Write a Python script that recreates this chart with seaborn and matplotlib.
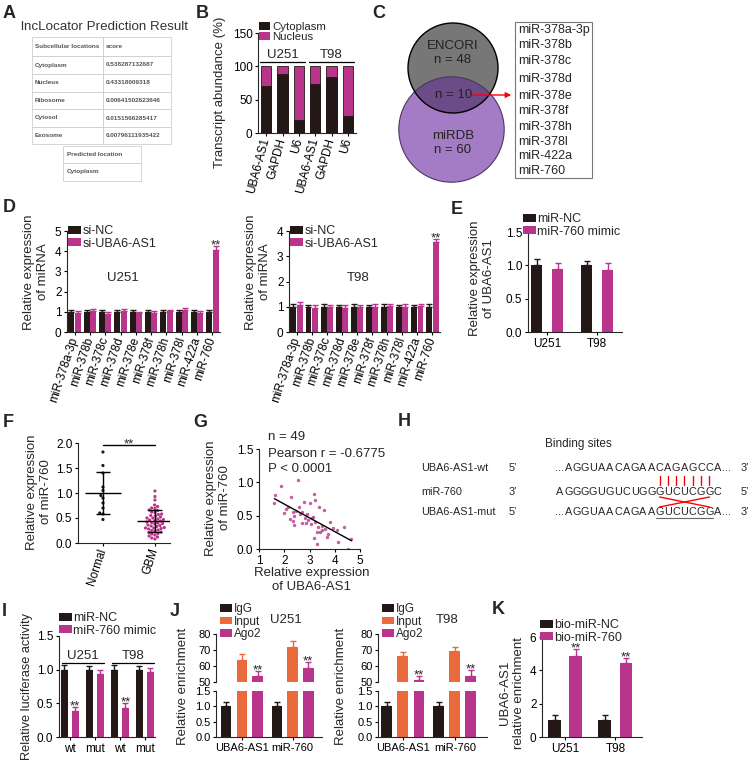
import numpy as np
import pandas as pd
import seaborn as sns
import matplotlib.pyplot as plt
from matplotlib.patches import Patch, Circle, Rectangle
from matplotlib.ticker import FormatStrFormatter

W, H = 753, 764
BLACK = '#231816'
MAGENTA = '#b9348b'
ORANGE = '#ea6a3c'

# ---- data ----
loc_names = ['Subcellular locations', 'Cytoplasm', 'Nucleus', 'Ribosome', 'Cytosol', 'Exosome']
loc_scores = ['score', '0.538287132687', '0.43318009318', '0.00641502623646',
              '0.0151566285417', '0.00796111935422']

b_labels = ['UBA6-AS1', 'GAPDH', 'U6', 'UBA6-AS1', 'GAPDH', 'U6']
b_cyto = [70, 88, 20, 74, 84, 25]
b_nuc = [30, 12, 80, 26, 16, 75]

venn_list = ['miR-378a-3p', 'miR-378b', 'miR-378c', 'miR-378d', 'miR-378e',
             'miR-378f', 'miR-378h', 'miR-378l', 'miR-422a', 'miR-760']

mir_labels = venn_list
d_u251_nc = [1.0] * 10
d_u251_nc_err = [0.10, 0.09, 0.10, 0.08, 0.10, 0.08, 0.09, 0.08, 0.10, 0.08]
d_u251_si = [0.95, 1.02, 0.88, 1.05, 0.95, 0.92, 1.05, 1.08, 0.95, 4.05]
d_u251_si_err = [0.07, 0.12, 0.09, 0.08, 0.06, 0.10, 0.05, 0.12, 0.10, 0.22]
d_t98_nc = [1.0] * 10
d_t98_nc_err = [0.12, 0.08, 0.10, 0.08, 0.10, 0.08, 0.10, 0.08, 0.08, 0.10]
d_t98_si = [1.05, 0.97, 0.98, 0.95, 1.00, 1.00, 1.02, 1.00, 1.02, 3.58]
d_t98_si_err = [0.12, 0.10, 0.10, 0.10, 0.08, 0.10, 0.08, 0.10, 0.10, 0.12]

cells = ['U251', 'T98']
e_nc = [1.0, 1.0]
e_nc_err = [0.09, 0.07]
e_mimic = [0.95, 0.93]
e_mimic_err = [0.08, 0.10]

f_normal = [1.82, 1.55, 1.40, 1.12, 1.05, 0.95, 0.90, 0.80, 0.70, 0.60, 0.58, 0.47]
f_gbm = [1.04, 0.93, 0.86, 0.76, 0.73, 0.70, 0.69, 0.66, 0.65, 0.62, 0.61, 0.58,
         0.57, 0.55, 0.54, 0.52, 0.50, 0.50, 0.48, 0.47, 0.46, 0.45, 0.44, 0.42,
         0.41, 0.40, 0.39, 0.38, 0.36, 0.35, 0.34, 0.33, 0.31, 0.30, 0.29, 0.28,
         0.26, 0.25, 0.24, 0.22, 0.21, 0.19, 0.18, 0.16, 0.14, 0.12, 0.10, 0.08, 0.30]

g_x = [1.61, 1.65, 1.89, 2.54, 1.98, 2.14, 2.28, 2.22, 2.35, 2.40, 2.37, 2.57, 2.70,
       2.79, 2.90, 3.03, 3.22, 3.16, 2.70, 2.87, 3.09, 3.22, 3.35, 3.39, 3.58, 3.16,
       3.29, 3.48, 3.61, 3.81, 3.68, 4.07, 4.14, 4.36, 4.53, 4.66, 2.05, 2.46, 2.62,
       2.95, 3.05, 3.12, 3.42, 3.50, 3.72, 3.92, 2.33, 2.83, 3.30]
g_y = [0.69, 0.81, 0.94, 1.04, 0.54, 0.63, 0.78, 0.45, 0.42, 0.49, 0.36, 0.63, 0.56,
       0.70, 0.53, 0.69, 0.73, 0.83, 0.39, 0.39, 0.46, 0.41, 0.33, 0.63, 0.58, 0.16,
       0.08, 0.29, 0.30, 0.40, 0.18, 0.29, 0.11, 0.33, 0.00, 0.15, 0.60, 0.57, 0.52,
       0.44, 0.37, 0.48, 0.26, 0.35, 0.22, 0.31, 0.55, 0.47, 0.25]

h_names = ['UBA6-AS1-wt', 'miR-760', 'UBA6-AS1-mut']
h_ends = [('5\u2019', '3\u2019'), ('3\u2019', '5\u2019'), ('5\u2019', '3\u2019')]
h_seqs = ['AGGUAACAGAACAGAGCCA', 'AGGGGUGUCUGGGUCUCGGC', 'AGGUAACAGAAGUCUCGGA']

i_labels = ['wt', 'mut', 'wt', 'mut']
i_nc = [1.0, 1.0, 1.0, 1.0]
i_nc_err = [0.07, 0.06, 0.07, 0.06]
i_mimic = [0.38, 0.93, 0.43, 0.97]
i_mimic_err = [0.06, 0.07, 0.07, 0.06]

j_labels = ['UBA6-AS1', 'miR-760']
j_u251 = {'IgG': [1.0, 1.0], 'Input': [64, 72], 'Ago2': [53.5, 59]}
j_u251_err = {'IgG': [0.13, 0.15], 'Input': [3.5, 3.5], 'Ago2': [3.5, 3.5]}
j_t98 = {'IgG': [1.0, 1.0], 'Input': [66, 69.5], 'Ago2': [51.5, 54]}
j_t98_err = {'IgG': [0.13, 0.15], 'Input': [3.0, 2.5], 'Ago2': [2.5, 3.5]}

k_nc = [1.04, 1.0]
k_nc_err = [0.28, 0.3]
k_bio = [4.86, 4.44]
k_bio_err = [0.4, 0.3]

# ---- style ----
sns.set_style('ticks')
plt.rcParams['font.family'] = ['Liberation Sans', 'DejaVu Sans']
plt.rcParams['axes.linewidth'] = 0.8

fig = plt.figure(figsize=(W / 100, H / 100), dpi=100)
ov = fig.add_axes([0, 0, 1, 1], zorder=-1)
ov.set_xlim(0, W)
ov.set_ylim(H, 0)
ov.axis('off')


def px_ax(x0, y0, x1, y1):
    ax = fig.add_axes([x0 / W, 1 - y1 / H, (x1 - x0) / W, (y1 - y0) / H])
    ax.set_facecolor('none')
    return ax


def style(ax):
    sns.despine(ax=ax)
    ax.tick_params(length=2.5, width=0.8, pad=1.5, labelsize=8.5, colors='black')
    ax.set_xlabel('')
    ax.set_ylabel('')


def letter(s, x, y):
    fig.text(x / W, 1 - y / H, s, fontsize=13, fontweight='bold', ha='left', va='center')


def ylab(s, x, y, fs=9.5):
    fig.text(x / W, 1 - y / H, s, rotation=90, ha='center', va='center',
             fontsize=fs, linespacing=1.15, multialignment='center')


def legend(ax, names, colors, x, y, fs=9, spacing=0.05):
    handles = [Patch(fc=c, ec='none') for c in colors]
    ax.legend(handles, names, loc='upper left', bbox_to_anchor=(x / W, 1 - y / H),
              bbox_transform=fig.transFigure, frameon=False, fontsize=fs,
              handlelength=1.0, handleheight=0.6, handletextpad=0.15,
              labelspacing=spacing, borderpad=0, borderaxespad=0)


def grouped_bars(ax, labels, vals, errs, names, colors, width, gap):
    keys = [str(i) for i in range(len(labels))]
    df = pd.DataFrame({
        'key': keys * len(names),
        'value': np.concatenate([np.asarray(v, float) for v in vals]),
        'group': np.repeat(names, len(labels)),
    })
    sns.barplot(data=df, x='key', y='value', hue='group', order=keys, hue_order=names,
                palette=colors, width=width, gap=gap, errorbar=None, saturation=1,
                linewidth=0, legend=False, ax=ax)
    xs = []
    for cont, err, c in zip(list(ax.containers), errs, colors):
        bx = [b.get_x() + b.get_width() / 2 for b in cont]
        by = [b.get_height() for b in cont]
        ax.errorbar(bx, by, yerr=[np.zeros(len(err)), err], fmt='none', ecolor=c,
                    elinewidth=1, capsize=2.2, capthick=1)
        xs.append(bx)
    ax.set_xticks(range(len(labels)), labels)
    style(ax)
    return xs


def stars(ax, x, y):
    # y is the top of the error bar; the glyph sits just above it
    ax.annotate('**', (x, y), xytext=(0, -1.8), textcoords='offset points',
                ha='center', va='baseline', fontsize=9.5, annotation_clip=False)


# ---- A ----
letter('A', 3, 13)
ov.text(105, 27, 'lncLocator Prediction Result', ha='center', va='center',
        fontsize=9.6, color='#333333')
row_y = [37, 56, 74, 92, 109, 127, 144]
for i, (a, b) in enumerate(zip(loc_names, loc_scores)):
    y0, y1 = row_y[i], row_y[i + 1]
    ov.add_patch(Rectangle((32, y0), 71, y1 - y0, fill=False, ec='#d0d0d0', lw=0.6))
    ov.add_patch(Rectangle((103, y0), 68, y1 - y0, fill=False, ec='#d0d0d0', lw=0.6))
    ov.text(35, (y0 + y1) / 2, a, fontsize=4.6, fontweight='bold', color='#555555', va='center')
    ov.text(106, (y0 + y1) / 2, b, fontsize=4.6, fontweight='bold', color='#555555', va='center')
for (y0, y1), s in zip([(146, 163), (163, 181)], ['Predicted location', 'Cytoplasm']):
    ov.add_patch(Rectangle((63, y0), 78, y1 - y0, fill=False, ec='#d0d0d0', lw=0.6))
    ov.text(67, (y0 + y1) / 2, s, fontsize=4.6, fontweight='bold', color='#555555', va='center')

# ---- B ----
letter('B', 196, 13)
axB = px_ax(258, 33, 356, 133)
keysB = [str(i) for i in range(len(b_labels))]
b_total = [c + n for c, n in zip(b_cyto, b_nuc)]
sns.barplot(x=keysB, y=b_total, color=MAGENTA, width=0.65, saturation=1,
            edgecolor=BLACK, linewidth=0.6, ax=axB)
sns.barplot(x=keysB, y=b_cyto, color=BLACK, width=0.65, saturation=1,
            edgecolor=BLACK, linewidth=0.6, ax=axB)
axB.set_xticks(range(6), b_labels, rotation=75, ha='right', va='center',
               rotation_mode='anchor')
axB.set_ylim(0, 150)
axB.set_xlim(-0.5, 5.5)
axB.set_yticks([0, 50, 100, 150])
style(axB)
for g, (lo, hi) in zip(cells, [(0, 2), (3, 5)]):
    axB.plot([lo - 0.35, hi + 0.35], [107, 107], color='black', lw=0.9, clip_on=False)
    axB.text((lo + hi) / 2, 108, g, ha='center', va='bottom', fontsize=9.5)
legend(axB, ['Cytoplasm', 'Nucleus'], [BLACK, MAGENTA], 259, 22, fs=8.2, spacing=0)
ylab('Transcript abundance (%)', 220, 92)

# ---- C ----
letter('C', 372, 13)
purple = Circle((451.5, 129.5), 52.7, fc='#a47cc5', ec='none')
gray = Circle((453, 68), 45, fc='#777777', ec='none')
ov.add_patch(purple)
ov.add_patch(gray)
over = Circle((451.5, 129.5), 52.7, fc='#6c4b89', ec='none')
ov.add_patch(over)
over.set_clip_path(gray)
ov.add_patch(Circle((451.5, 129.5), 52.7, fc='none', ec='#4b3563', lw=0.8))
ov.add_patch(Circle((453, 68), 45, fc='none', ec='black', lw=1))
for txt, (x, y) in zip(['ENCORI', 'n = 48', 'n = 10', 'miRDB', 'n = 60'],
                       [(453, 46), (453, 60), (454, 95), (453, 136), (453, 150)]):
    ov.text(x, y, txt, ha='center', va='center', fontsize=9.5, color='#222222')
ov.annotate('', xy=(514, 95), xytext=(470, 95),
            arrowprops=dict(arrowstyle='-|>', color='red', lw=1, mutation_scale=8))
ov.add_patch(Rectangle((515, 22), 77, 156, fill=False, ec='#777777', lw=0.8))
for s, y in zip(venn_list, [30, 45, 61, 79, 96, 111, 127, 142, 156, 171]):
    ov.text(518, y, s, va='center', ha='left', fontsize=9)

# ---- D ----
letter('D', 3, 208)
axD1 = px_ax(67, 231, 220, 332)
xs = grouped_bars(axD1, mir_labels, [d_u251_nc, d_u251_si], [d_u251_nc_err, d_u251_si_err],
                  ['si-NC', 'si-UBA6-AS1'], [BLACK, MAGENTA], 0.84, 0.07)
axD1.set_ylim(0, 5)
axD1.set_xlim(-0.5, 9.5)
axD1.set_yticks(range(6))
axD1.set_xticks(range(10), mir_labels, rotation=72, ha='right', va='center',
                rotation_mode='anchor')
stars(axD1, xs[1][9], d_u251_si[9] + d_u251_si_err[9])
legend(axD1, ['si-NC', 'si-UBA6-AS1'], [BLACK, MAGENTA], 68, 225)
fig.text(123 / W, 1 - 278 / H, 'U251', ha='center', va='center', fontsize=9.5)
ylab('Relative expression\nof miRNA', 36, 272)

axD2 = px_ax(289, 231, 440, 332)
xs = grouped_bars(axD2, mir_labels, [d_t98_nc, d_t98_si], [d_t98_nc_err, d_t98_si_err],
                  ['si-NC', 'si-UBA6-AS1'], [BLACK, MAGENTA], 0.84, 0.07)
axD2.set_ylim(0, 4)
axD2.set_xlim(-0.5, 9.5)
axD2.set_yticks(range(5))
axD2.set_xticks(range(10), mir_labels, rotation=72, ha='right', va='center',
                rotation_mode='anchor')
stars(axD2, xs[1][9], d_t98_si[9] + d_t98_si_err[9])
legend(axD2, ['si-NC', 'si-UBA6-AS1'], [BLACK, MAGENTA], 290, 225)
fig.text(358 / W, 1 - 278 / H, 'T98', ha='center', va='center', fontsize=9.5)
ylab('Relative expression\nof miRNA', 258, 272)

# ---- E ----
letter('E', 451, 209)
axE = px_ax(528, 232, 622, 332)
grouped_bars(axE, cells, [e_nc, e_mimic], [e_nc_err, e_mimic_err],
             ['miR-NC', 'miR-760 mimic'], [BLACK, MAGENTA], 0.84, 0.43)
axE.set_ylim(0, 1.5)
axE.set_xlim(-0.38, 1.5)
axE.set_yticks([0, 0.5, 1.0, 1.5])
axE.yaxis.set_major_formatter(FormatStrFormatter('%.1f'))
legend(axE, ['miR-NC', 'miR-760 mimic'], [BLACK, MAGENTA], 523, 213)
ylab('Relative expression\nof UBA6-AS1', 482, 278)

# ---- F ----
letter('F', 3, 422)
axF = px_ax(78, 443, 170, 543)
f_df = pd.DataFrame({'group': ['Normal'] * len(f_normal) + ['GBM'] * len(f_gbm),
                     'value': f_normal + f_gbm})
sns.swarmplot(data=f_df, x='group', y='value', hue='group', order=['Normal', 'GBM'],
              palette={'Normal': BLACK, 'GBM': MAGENTA}, size=2.3, legend=False, ax=axF)
for i, v in enumerate([f_normal, f_gbm]):
    m, sd = np.mean(v), np.std(v, ddof=1)
    axF.hlines(m, i - 0.34, i + 0.34, color='black', lw=1, zorder=5)
    axF.errorbar(i, m, yerr=sd, fmt='none', ecolor='black', elinewidth=1,
                 capsize=5, capthick=1, zorder=5)
axF.set_xlim(-0.48, 1.29)
axF.set_ylim(0, 2.0)
axF.set_yticks([0, 0.5, 1.0, 1.5, 2.0])
axF.yaxis.set_major_formatter(FormatStrFormatter('%.1f'))
axF.set_xticks([0, 1], ['Normal', 'GBM'], rotation=72, ha='right', va='center',
               rotation_mode='anchor')
style(axF)
axF.plot([0, 1], [1.96, 1.96], color='black', lw=1, clip_on=False)
stars(axF, 0.5, 1.97)
ylab('Relative expression\nof miR-760', 39, 492)

# ---- G ----
letter('G', 193, 422)
axG = px_ax(259, 449, 360, 549)
sns.regplot(x=g_x, y=g_y, ci=None, truncate=True, color=MAGENTA,
            scatter_kws=dict(s=6, linewidths=0), line_kws=dict(color='black', lw=1), ax=axG)
axG.set_xlim(1, 5)
axG.set_ylim(0, 1.5)
axG.set_xticks([1, 2, 3, 4, 5])
axG.set_yticks([0, 0.5, 1.0, 1.5])
axG.yaxis.set_major_formatter(FormatStrFormatter('%.1f'))
style(axG)
for s, y in zip(['n = 49', 'Pearson r = -0.6775', 'P < 0.0001'], [437, 454, 469]):
    fig.text(268 / W, 1 - y / H, s, ha='left', va='center', fontsize=9.5)
ylab('Relative expression\nof miR-760', 218, 498)
fig.text(312 / W, 1 - 580 / H, 'Relative expression\nof UBA6-AS1', ha='center', va='center',
         fontsize=9.5, linespacing=1.15)

# ---- H ----
letter('H', 398, 421)
ov.text(578, 444, 'Binding sites', ha='center', va='center', fontsize=8.5)
pitch = 8.3
x_mir = 560
row_ys = [468, 492, 512]
starts = [x_mir + pitch, x_mir, x_mir + pitch]
for name, (e1, e2), seq, y, x0 in zip(h_names, h_ends, h_seqs, row_ys, starts):
    ov.text(421, y, name, ha='left', va='center', fontsize=7.8)
    ov.text(509, y, e1, ha='left', va='center', fontsize=7.8)
    ov.text(741, y, e2, ha='left', va='center', fontsize=7.8)
    for k, ch in enumerate(seq):
        ov.text(x0 + pitch * k, y, ch, ha='center', va='center', fontsize=7.8)
    if x0 != x_mir:
        ov.text(x0 - 4.5, y, '...', ha='right', va='center', fontsize=7.8)
        ov.text(x0 + pitch * (len(seq) - 1) + 4.5, y, '...', ha='left', va='center', fontsize=7.8)
for k in range(12, 19):
    ov.plot([x_mir + pitch * k] * 2, [476, 485], color='red', lw=1)
ov.plot([x_mir + pitch * 12, x_mir + pitch * 18], [497, 507], color='red', lw=1)
ov.plot([x_mir + pitch * 18, x_mir + pitch * 12], [497, 507], color='red', lw=1)
ov.plot([x_mir + pitch * 12 - 4, x_mir + pitch * 18 + 4], [518, 518], color='#666666', lw=0.8)

# ---- I ----
letter('I', 2, 611)
axI = px_ax(59, 636, 155, 737)
xs = grouped_bars(axI, i_labels, [i_nc, i_mimic], [i_nc_err, i_mimic_err],
                  ['miR-NC', 'miR-760 mimic'], [BLACK, MAGENTA], 0.88, 0.32)
axI.set_ylim(0, 1.5)
axI.set_xlim(-0.43, 3.4)
axI.set_yticks([0, 0.5, 1.0, 1.5])
axI.yaxis.set_major_formatter(FormatStrFormatter('%.1f'))
for g, (lo, hi) in zip(cells, [(0, 1), (2, 3)]):
    axI.plot([lo - 0.31, hi + 0.38], [1.1, 1.1], color='black', lw=0.9, clip_on=False)
    axI.text((lo + hi) / 2 + 0.03, 1.11, g, ha='center', va='bottom', fontsize=9.5)
for k in (0, 2):
    stars(axI, xs[1][k], i_mimic[k] + i_mimic_err[k])
legend(axI, ['miR-NC', 'miR-760 mimic'], [BLACK, MAGENTA], 59, 612)
ylab('Relative luciferase activity', 27, 686, fs=9.2)

# ---- J ----
letter('J', 170, 611)
j_names = ['IgG', 'Input', 'Ago2']
j_colors = [BLACK, ORANGE, MAGENTA]
for vals, errs, (xa, xb), xlim, title, tx, lx in [
        (j_u251, j_u251_err, (216, 322), (-0.51, 1.58), 'U251', 286, 183),
        (j_t98, j_t98_err, (378, 487), (-0.48, 1.62), 'T98', 447, 341)]:
    axU = px_ax(xa, 634, xb, 682)
    xs = grouped_bars(axU, j_labels, [vals[n] for n in j_names], [errs[n] for n in j_names],
                      j_names, j_colors, 0.93, 0.32)
    axU.set_ylim(50, 80)
    axU.set_xlim(*xlim)
    axU.set_yticks([50, 60, 70, 80])
    axU.spines['bottom'].set_visible(False)
    axU.set_xticks([])
    axU.tick_params(axis='y', labelsize=8)
    for k in range(2):
        stars(axU, xs[2][k], vals['Ago2'][k] + errs['Ago2'][k])
    legend(axU, j_names, j_colors, xa + 4, 603, fs=8.5)
    fig.text(tx / W, 1 - 620 / H, title, ha='center', va='center', fontsize=9.5)
    axL = px_ax(xa, 691, xb, 737)
    grouped_bars(axL, j_labels, [vals[n] for n in j_names], [errs[n] for n in j_names],
                 j_names, j_colors, 0.93, 0.32)
    axL.set_ylim(0, 1.5)
    axL.set_xlim(*xlim)
    axL.set_yticks([0, 0.5, 1.0, 1.5])
    axL.yaxis.set_major_formatter(FormatStrFormatter('%.1f'))
    axL.tick_params(axis='x', labelsize=8)
    axL.tick_params(axis='y', labelsize=8)
    ylab('Relative enrichment', lx, 686)

# ---- K ----
letter('K', 492, 610)
axK = px_ax(542, 637, 642, 737)
xs = grouped_bars(axK, cells, [k_nc, k_bio], [k_nc_err, k_bio_err],
                  ['bio-miR-NC', 'bio-miR-760'], [BLACK, MAGENTA], 0.84, 0.4)
axK.set_ylim(0, 6)
axK.set_xlim(-0.46, 1.53)
axK.set_yticks([0, 2, 4, 6])
for k in range(2):
    stars(axK, xs[1][k], k_bio[k] + k_bio_err[k])
legend(axK, ['bio-miR-NC', 'bio-miR-760'], [BLACK, MAGENTA], 540, 619)
ylab('UBA6-AS1\nrelative enrichment', 512, 693)

fig.savefig('out.png', dpi=100)
